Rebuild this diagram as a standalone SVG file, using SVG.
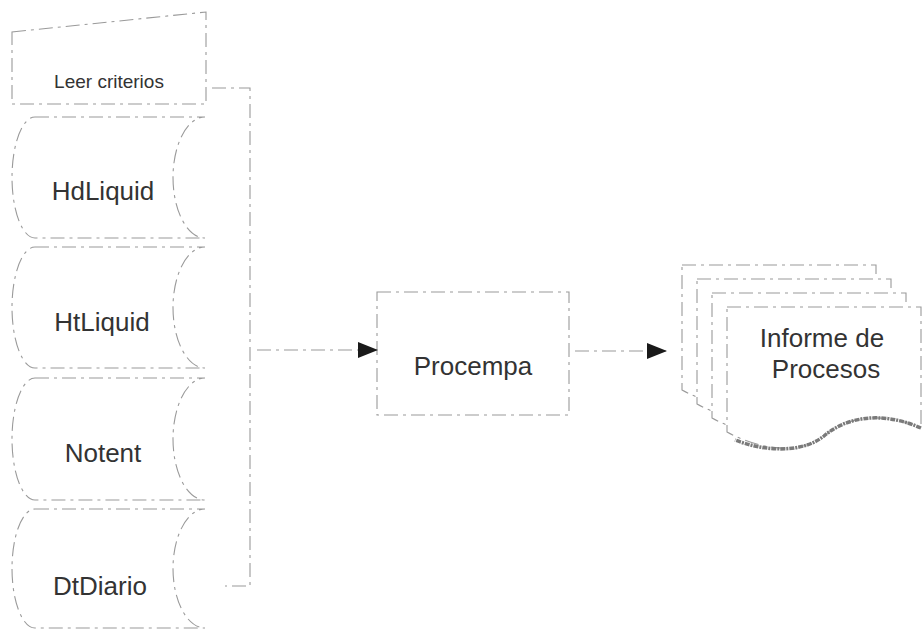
<svg xmlns="http://www.w3.org/2000/svg" width="924" height="631" viewBox="0 0 924 631">
  <defs>
    <style>
      .shape { fill: #ffffff; stroke: #9a9a9a; stroke-width: 1.1; stroke-dasharray: 14 5 3 5; }
      .line { fill: none; stroke: #9a9a9a; stroke-width: 1.1; stroke-dasharray: 14 5 3 5; }
      .label { font-family: "Liberation Sans", Arial, sans-serif; font-size: 26px; fill: #333333; text-anchor: middle; }
      .small { font-size: 19px; }
    </style>
    <marker id="arrow" viewBox="0 0 20 16" refX="19" refY="8" markerWidth="20" markerHeight="16" markerUnits="userSpaceOnUse" orient="auto">
      <path d="M0,0 L20,8 L0,16 Z" fill="#1a1a1a"/>
    </marker>
    <!-- document shape with wavy bottom, origin at the front sheet -->
    <path id="docSheet" d="M727,307 H921 V428 C880,410 845,418 824,436 C800,455 760,450 727,432 Z"/>
  </defs>

  <rect width="924" height="631" fill="#ffffff"/>

  <!-- manual input -->
  <g id="leer-criterios">
    <path class="shape" d="M12,32 L206,12 V104 H12 Z"/>
    <text class="label small" x="109" y="88">Leer criterios</text>
  </g>

  <!-- stored data files -->
  <g id="hdliquid">
    <path class="shape" d="M35,117 H205 A32,60.5 0 0 0 205,238 H35 A23,60.5 0 0 1 35,117 Z"/>
    <text class="label" x="103" y="200">HdLiquid</text>
  </g>
  <g id="htliquid">
    <path class="shape" d="M35,247 H205 A32,60.5 0 0 0 205,368 H35 A23,60.5 0 0 1 35,247 Z"/>
    <text class="label" x="102" y="331">HtLiquid</text>
  </g>
  <g id="notent">
    <path class="shape" d="M35,378 H205 A32,61 0 0 0 205,500 H35 A23,61 0 0 1 35,378 Z"/>
    <text class="label" x="103" y="462">Notent</text>
  </g>
  <g id="dtdiario">
    <path class="shape" d="M35,509 H205 A32,59.5 0 0 0 205,628 H35 A23,59.5 0 0 1 35,509 Z"/>
    <text class="label" x="100" y="595">DtDiario</text>
  </g>

  <!-- process -->
  <g id="procempa">
    <rect class="shape" x="377" y="292" width="192" height="123"/>
    <text class="label" x="473" y="375">Procempa</text>
  </g>

  <!-- report (multiple documents) -->
  <g id="informe-de-procesos">
    <use href="#docSheet" class="shape" transform="translate(-45,-42)"/>
    <use href="#docSheet" class="shape" transform="translate(-30,-28)"/>
    <use href="#docSheet" class="shape" transform="translate(-15,-14)"/>
    <use href="#docSheet" class="shape"/>
    <path d="M921,428 C880,410 845,418 824,436 C800,455 760,450 735,440" fill="none" stroke="#7a7a7a" stroke-width="3.5" stroke-dasharray="5 1 2 1"/>
    <text class="label" x="822" y="347">Informe de</text>
    <text class="label" x="826" y="378">Procesos</text>
  </g>

  <!-- connectors -->
  <g id="connectors">
    <path class="line" d="M212,88 H250 V586 H225"/>
    <path class="line" d="M257,350 H377" marker-end="url(#arrow)"/>
    <path class="line" d="M575,351 H666" marker-end="url(#arrow)"/>
  </g>
</svg>
